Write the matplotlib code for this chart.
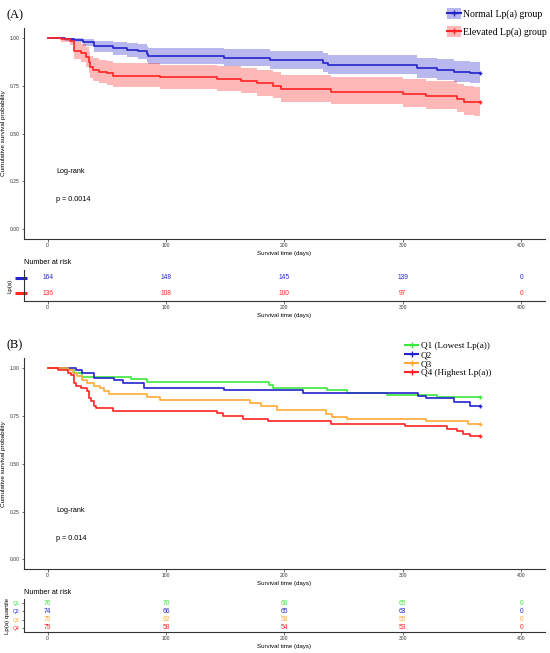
import numpy as np
import matplotlib
matplotlib.use('Agg')
import matplotlib.pyplot as plt
import matplotlib.transforms as mtransforms
from matplotlib.patches import Patch
from matplotlib.lines import Line2D

# ---- data ----
t_end = 365
x_ticks = [0, 100, 200, 300, 400]

# panel A: Normal vs Elevated Lp(a)
normal_t = [0, 15, 22, 30, 39, 55, 67, 76, 84, 85, 149, 188, 233, 237, 312, 329, 343, 357]
normal_s = [1.0, 0.995, 0.99, 0.975, 0.955, 0.946, 0.937, 0.929, 0.915, 0.903, 0.894,
            0.884, 0.868, 0.858, 0.842, 0.832, 0.821, 0.816]
normal_lo = [1.0, 0.985, 0.975, 0.955, 0.925, 0.912, 0.900, 0.890, 0.875, 0.862, 0.850,
             0.838, 0.820, 0.808, 0.790, 0.779, 0.767, 0.761]
normal_hi = [1.0, 1.0, 1.0, 0.995, 0.985, 0.980, 0.973, 0.967, 0.956, 0.946, 0.940,
             0.932, 0.918, 0.910, 0.896, 0.887, 0.877, 0.872]

elev_t = [0, 11, 19, 22, 28, 32, 35, 36, 38, 43, 50, 55, 95, 143, 163, 177, 190, 197,
          239, 300, 320, 346, 352, 360]
elev_s = [1.0, 0.993, 0.984, 0.932, 0.918, 0.897, 0.871, 0.845, 0.832, 0.823, 0.814,
          0.802, 0.794, 0.785, 0.772, 0.762, 0.75, 0.733, 0.719, 0.707, 0.698, 0.681,
          0.667, 0.663]
elev_lo = [1.0, 0.979, 0.963, 0.891, 0.873, 0.848, 0.818, 0.790, 0.775, 0.765, 0.755,
           0.742, 0.733, 0.723, 0.709, 0.698, 0.685, 0.667, 0.652, 0.639, 0.629, 0.611,
           0.596, 0.591]
elev_hi = [1.0, 1.0, 1.0, 0.975, 0.965, 0.949, 0.928, 0.904, 0.893, 0.885, 0.877,
           0.866, 0.860, 0.852, 0.840, 0.832, 0.821, 0.805, 0.793, 0.782, 0.774, 0.759,
           0.746, 0.743]

risk_a_labels = ['Normal Lp(a) group', 'Elevated Lp(a) group']
risk_a = [[164, 148, 145, 139, 0],
          [136, 108, 100, 97, 0]]

# panel B: quartiles
q1_t = [0, 17, 22, 29, 70, 84, 187, 190, 236, 253, 287, 329]
q1_s = [1.0, 0.987, 0.972, 0.951, 0.941, 0.924, 0.908, 0.896, 0.882, 0.868, 0.858, 0.845]
q2_t = [0, 24, 29, 39, 56, 64, 81, 149, 216, 313, 320, 343, 357]
q2_s = [1.0, 0.987, 0.974, 0.947, 0.934, 0.921, 0.895, 0.882, 0.868, 0.854, 0.841, 0.82, 0.80]
q3_t = [0, 17, 21, 25, 29, 33, 39, 44, 48, 52, 84, 95, 171, 180, 194, 235, 240, 253, 320, 355]
q3_s = [1.0, 0.99, 0.972, 0.955, 0.937, 0.92, 0.906, 0.894, 0.877, 0.863, 0.847, 0.83,
        0.816, 0.799, 0.778, 0.76, 0.743, 0.733, 0.724, 0.708]
q4_t = [0, 9, 17, 20, 22, 24, 28, 33, 35, 37, 39, 41, 55, 143, 148, 165, 186, 239, 302,
        337, 346, 351, 357]
q4_s = [1.0, 0.987, 0.973, 0.96, 0.92, 0.907, 0.894, 0.877, 0.842, 0.824, 0.80, 0.79,
        0.776, 0.764, 0.75, 0.734, 0.72, 0.708, 0.694, 0.681, 0.668, 0.656, 0.642]
quart_labels = ['Q1 (Lowest Lp(a))', 'Q2', 'Q3', 'Q4 (Highest Lp(a))']
quart_ticks = ['Q1', 'Q2', 'Q3', 'Q4']
risk_b = [[76, 70, 68, 65, 0],
          [74, 66, 65, 63, 0],
          [75, 62, 58, 55, 0],
          [75, 58, 54, 53, 0]]

c_blue = '#2424CC'
c_red = '#FF2424'
c_green = '#3DE83D'
c_orange = '#FFAA33'

sans = 'Liberation Sans'
serif = 'Liberation Serif'
plt.rcParams['font.family'] = sans


def ext(t, s):
    return list(t) + [t_end], list(s) + [s[-1]]


def style_axes(ax, ylabel=None):
    for sp in ['top', 'right']:
        ax.spines[sp].set_visible(False)
    for sp in ['left', 'bottom']:
        ax.spines[sp].set_linewidth(0.8)
        ax.spines[sp].set_color('#333333')
    ax.set_xlim(-20, 420)
    ax.set_xticks(x_ticks)
    ax.tick_params(labelsize=3.6, length=1.8, width=0.5, pad=1.2, colors='#333333')
    ax.set_xlabel('Survival time (days)', fontsize=4.4, labelpad=2)
    if ylabel:
        ax.set_ylabel(ylabel, fontsize=4.6, labelpad=3)


def km_main(ax):
    style_axes(ax, 'Cumulative survival probability')
    ax.set_ylim(-0.05, 1.05)
    ax.set_yticks([0, 0.25, 0.5, 0.75, 1.0])
    ax.set_yticklabels(['0.00', '0.25', '0.50', '0.75', '1.00'])


def curve(ax, t, s, color):
    te, se = ext(t, s)
    ax.step(te, se, where='post', color=color, lw=1.2)
    ax.plot([te[-1]], [se[-1]], marker='+', color=color, ms=3.5, mew=1.0)


fig = plt.figure(figsize=(5.5, 6.53), dpi=100)

# ---------------- panel A ----------------
axA = fig.add_axes([0.0436, 0.634, 0.947, 0.323])
km_main(axA)
for t, s, lo, hi, c in [(normal_t, normal_s, normal_lo, normal_hi, c_blue),
                        (elev_t, elev_s, elev_lo, elev_hi, c_red)]:
    te, loe = ext(t, lo)
    _, hie = ext(t, hi)
    axA.fill_between(te, loe, hie, step='post', color=c, alpha=0.32, lw=0)
    curve(axA, t, s, c)
axA.text(7, 0.30, 'Log-rank', fontsize=5.2, va='center')
axA.text(7, 0.155, 'p = 0.0014', fontsize=5.2, va='center')
fig.text(0.012, 0.976, '(A)', fontsize=9, family=serif, va='center')

handles = [(Patch(color=c_blue, alpha=0.32, lw=0),
            Line2D([], [], color=c_blue, lw=1.5, marker='+', ms=4)),
           (Patch(color=c_red, alpha=0.32, lw=0),
            Line2D([], [], color=c_red, lw=1.5, marker='+', ms=4))]
fig.legend(handles, risk_a_labels, loc='upper left', bbox_to_anchor=(0.80, 0.998),
           frameon=False, prop={'family': serif, 'size': 7}, handlelength=1.5,
           handleheight=1.4, handletextpad=0.2, labelspacing=0.7, borderpad=0.2)

# risk table A
rA = fig.add_axes([0.0436, 0.539, 0.947, 0.0475])
style_axes(rA)
rA.set_ylim(2.5, 0.5)
rA.set_yticks([])
trans = mtransforms.blended_transform_factory(rA.transAxes, rA.transData)
for i, c in enumerate([c_blue, c_red]):
    rA.plot([-0.017, 0.006], [i + 1, i + 1], transform=trans, color=c, lw=2.2,
            solid_capstyle='butt', clip_on=False)
    for j, x in enumerate(x_ticks):
        rA.text(x, i + 1, str(risk_a[i][j]), color=c, fontsize=4.8, ha='center', va='center')
rA.set_ylabel('Lp(a)', fontsize=4.4, labelpad=8)
fig.text(0.0436, 1 - 263 / 653, 'Number at risk', fontsize=5.2, va='center')

# ---------------- panel B ----------------
axB = fig.add_axes([0.0436, 0.1286, 0.947, 0.323])
km_main(axB)
q_colors = [c_green, c_blue, c_orange, c_red]
for (t, s), c in zip([(q1_t, q1_s), (q2_t, q2_s), (q3_t, q3_s), (q4_t, q4_s)], q_colors):
    curve(axB, t, s, c)
axB.text(7, 0.255, 'Log-rank', fontsize=5.2, va='center')
axB.text(7, 0.11, 'p = 0.014', fontsize=5.2, va='center')
fig.text(0.012, 1 - 345 / 653, '(B)', fontsize=9, family=serif, va='center')

handlesB = [Line2D([], [], color=c, lw=1.5, marker='+', ms=4) for c in q_colors]
fig.legend(handlesB, quart_labels, loc='upper left', bbox_to_anchor=(0.727, 1 - 336 / 653),
           frameon=False, prop={'family': serif, 'size': 6.6}, handlelength=1.4,
           handletextpad=0.3, labelspacing=0.08, borderpad=0.1)

# risk table B
rB = fig.add_axes([0.0436, 0.032, 0.947, 0.0505])
style_axes(rB)
rB.set_ylim(4.5, 0.5)
rB.set_yticks([1, 2, 3, 4])
rB.set_yticklabels(quart_ticks)
for i, c in enumerate(q_colors):
    rB.get_yticklabels()[i].set_color(c)
    for j, x in enumerate(x_ticks):
        rB.text(x, i + 1, str(risk_b[i][j]), color=c, fontsize=4.8, ha='center', va='center')
rB.set_ylabel('Lp(a) quartile', fontsize=4.4, labelpad=2)
fig.text(0.0436, 1 - 593 / 653, 'Number at risk', fontsize=5.2, va='center')

fig.savefig('out.png', dpi=100)
